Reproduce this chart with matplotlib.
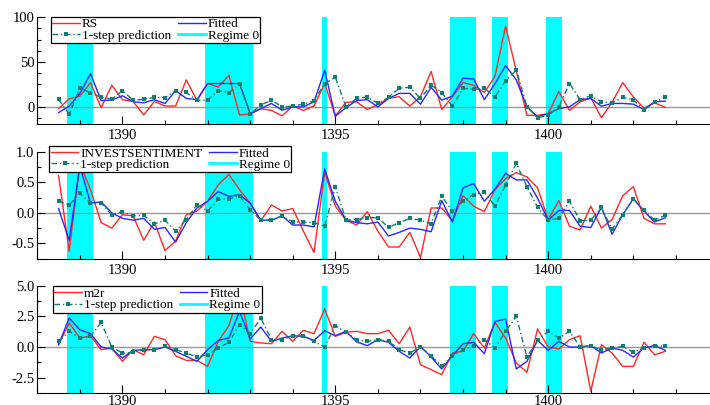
import numpy as np
import matplotlib
matplotlib.use("Agg")
import matplotlib.pyplot as plt
from matplotlib.ticker import MultipleLocator, FormatStrFormatter
from matplotlib.lines import Line2D

plt.rcParams.update({
    "font.family": ["Liberation Serif", "DejaVu Serif"],
    "font.size": 10.5,
    "axes.unicode_minus": False,
})

# quarterly observations 1388(3) .. 1402(4)
dates = 1388.5 + 0.25 * np.arange(58)

rs_actual = [-2, 9, 12, 27, -1, 24, 8, 6, -9, 6, 1, 1, 30, 7, 26, 22, 35, -9, -8, -2,
             -4, -10, 1, -4, 1, 26, -10, 5, 5.6, -3, 2.6, 9.4, 11.3, 0.8, 11.3, 39.5, -3, 11.3,
             27, 24, 16, 34, 90, 40, -9.4, -9.4, -7.5, 17, -4, 5.6, 10, -12, 5, 27,
             11, -1.5, 4.5, -0.5]
rs_fitted = [-6.4, 0.8, 15, 37, 7, 7.5, 12.4, 5.6, 4.5, 8, 3.8, 18, 9.4, 8, 26, 26, 26, 26, -7.5, -2,
             3.8, -3.8, 0, 0, 5.6, 40.6, -10.5, -0.8, 7, 8, 0, 9.4, 15, 15, 3, 21.8, 7.5, 12,
             32, 31, 8, 26, 46, 30, 0, -11, -7.5, -2, 0, 8, 9.4, 0.8, 3.8, 3.8,
             3, -3, 5.6, 6.4]
rs_pred = [8.3, -8.3, 20.7, 15.8, 10.5, 8.7, 18, 7.5, 8.3, 10.5, 10.2, 18, 16, 7.5, 7.5, 18, 15.8, 26, -7.5, 2,
           7.5, 0, 0.8, 3, 6.8, 26, 33, 0, 9.5, 11, 3.8, 10.5, 20.7, 21.8, 9.4, 24.4, 15.8, 0.8,
           20.7, 19.5, 20.7, 11.3, 29, 41, 0, -12, -9.4, 0, 26, 8, 12.4, 5.6, 4.5, 10.5,
           8, -3.8, 5.6, 10.5]

inv_actual = [0.61, -0.63, 0.81, 0.38, -0.16, -0.25, -0.03, -0.05, -0.45, -0.15, -0.62, -0.46, -0.03, 0.03,
              0.19, 0.46, 0.63, 0.38, 0.16, -0.13, 0.13, 0.03, 0.07, -0.3, -0.65, 0.67, 0.11, -0.12,
              -0.2, 0.02, -0.3, -0.56, -0.56, -0.32, -0.73, 0.08, 0.08, -0.13, 0.28, 0.11, 0.02, 0.38,
              0.56, 0.66, 0.59, 0.41, -0.11, 0.2, -0.22, -0.28, 0.11, -0.25, -0.11, 0.28, 0.43, -0.09,
              -0.18, -0.18]
inv_fitted = [0.07, -0.45, 0.77, 0.16, 0.18, 0, -0.09, -0.12, -0.09, -0.27, -0.24, -0.48, -0.16, 0.08,
              0.19, 0.35, 0.27, 0.3, 0.16, -0.12, -0.12, -0.05, -0.2, -0.2, -0.23, 0.72, 0.19, -0.12,
              -0.16, -0.18, -0.15, -0.38, -0.32, -0.25, -0.27, -0.31, 0.2, -0.15, 0.41, 0.48, 0.19, 0.39,
              0.65, 0.54, 0.54, 0.24, -0.12, 0.04, 0.04, -0.22, -0.24, 0.09, -0.35, -0.03, 0.23, 0.03,
              -0.15, -0.08]
inv_pred = [0.19, 0.13, 0.32, 0.16, 0.16, -0.03, 0.02, -0.05, -0.04, -0.18, -0.12, -0.3, -0.11, 0.13,
            0.03, 0.22, 0.23, 0.28, 0.05, -0.12, -0.12, -0.05, -0.15, -0.15, -0.16, -0.22, 0.43, -0.12,
            -0.11, -0.08, -0.08, -0.24, -0.16, -0.09, -0.12, -0.18, 0.27, 0.03, 0.19, 0.3, 0.34, 0.11,
            0.46, 0.81, 0.43, 0.09, -0.12, -0.09, 0.19, -0.13, -0.12, 0.09, -0.27, -0.03, 0.23, 0.04,
            -0.12, -0.04]

m2r_actual = [0.19, 1.96, 0.73, 0.92, -0.22, -0.08, -1.17, -0.22, -0.63, 0.87, 0.6, -0.71, -1.09, -1.09,
              -1.58, 0.46, 1.74, 4.46, 0.46, 0.33, 0.27, 1.28, 0.46, 1.36, 1.09, 3.1, 0.87, 1.2,
              1.28, 1.09, 1.09, 1.36, 0.27, 1.63, -1.44, -1.85, -2.26, -0.49, -0.35, 1.09, -0.08, 2.01,
              0.73, -1.3, -2.07, 1.47, 0, -0.16, 0.6, 0.92, -3.6, 0.19, -0.49, -1.58, -1.58, 0.38,
              -0.63, -0.35]
m2r_fitted = [0.19, 2.36, 1.41, 1.09, 0, -0.16, -0.9, -0.27, -0.22, -0.22, 0, -0.35, -0.76, -1.17,
              -0.22, 0.54, 0.73, 2.9, 0.65, 1.63, 0.46, 0.73, 0.92, 0.87, 0.54, 1.33, 0.92, 1.28,
              0.42, 0.11, 0.6, 0.38, -0.35, -0.9, 0.05, -0.82, -1.79, -0.71, 0.27, 0.38, -0.54, 2.09,
              2.28, -1.79, -1.17, 0.54, -0.27, 0.46, 0, 0, 0.11, -0.49, -0.08, -0.27, -0.82, -0.08,
              0.11, -0.27]
m2r_pred = [0.46, 1.28, 0.73, 0.87, 2.01, 0, -0.49, -0.43, -0.22, -0.22, 0.05, -0.22, -0.49, -0.82,
            -0.63, -0.08, 0.38, 1.82, 1.09, 2.36, 0.6, 0.6, 0.92, 0.87, 0.46, 0, 1.74, 1.2,
            0.6, 0.46, 0.6, 0.46, -0.22, -0.49, 0, -0.71, -1.58, -0.71, -0.22, 0.11, 0.6, -0.08,
            1.28, 2.5, -0.82, 0.54, 1.28, 0.73, 1.28, 0, 0.11, -0.27, -0.08, 0.05, -0.43, -0.08,
            0.11, 0.05]

# Regime 0 periods (first and last quarter of each run)
regime0 = [(1388.75, 1389.25), (1392.0, 1393.0), (1394.75, 1394.75),
           (1397.75, 1398.25), (1398.75, 1399.0), (1400.0, 1400.25)]

panels = [
    ("RS", rs_actual, rs_fitted, rs_pred, (-19, 100.5), 50, 12.5, "%d"),
    ("INVESTSENTIMENT", inv_actual, inv_fitted, inv_pred, (-0.76, 1.0), 0.5, 0.25, "%.1f"),
    ("m2r", m2r_actual, m2r_fitted, m2r_pred, (-3.75, 5.0), 2.5, 1.25, "%.1f"),
]

RED = "#ff2828"
BLUE = "#2828ff"
TEAL = "#0e7f72"
CYAN = "#00ffff"
PRED_DASH = (0, (4, 2, 1, 2))

fig = plt.figure(figsize=(7.1, 4.05), dpi=100)
boxes = [(0.0525, 0.694, 0.9475, 0.265),
         (0.0525, 0.360, 0.9475, 0.265),
         (0.0525, 0.0296, 0.9475, 0.265)]
legend_pos = [(0.0205, 0.998), (0.018, 1.055), (0.023, 0.995)]
xpads = [3.5, 3.5, 1.5]

for (name, act, fit, pred, ylim, major, minor, fmt), box, lpos, xpad in zip(panels, boxes, legend_pos, xpads):
    ax = fig.add_axes(box)
    for a, b in regime0:
        ax.axvspan(a - 0.0625, b + 0.0625, color=CYAN, lw=0, zorder=0)
    ax.axhline(0, color="#999999", lw=1.0, zorder=1)
    ax.plot(dates, act, color=RED, lw=1.0, zorder=3)
    ax.plot(dates, fit, color=BLUE, lw=1.0, zorder=3)
    ax.plot(dates, pred, color=TEAL, lw=1.0, ls=PRED_DASH, marker="s",
            markersize=2.6, markeredgewidth=0, zorder=4)
    ax.set_xlim(1388.0, 1403.8)
    ax.set_ylim(*ylim)
    ax.xaxis.set_major_locator(MultipleLocator(5))
    ax.xaxis.set_minor_locator(MultipleLocator(1))
    ax.yaxis.set_major_locator(MultipleLocator(major))
    ax.yaxis.set_minor_locator(MultipleLocator(minor))
    ax.yaxis.set_major_formatter(FormatStrFormatter(fmt))
    ax.spines["top"].set_visible(False)
    ax.spines["right"].set_visible(False)
    ax.tick_params(which="both", direction="in", labelsize=10.5, top=False, right=False)
    ax.tick_params(which="major", length=5.5, width=0.8)
    ax.tick_params(which="minor", length=2.8, width=0.8)
    ax.tick_params(axis="x", pad=xpad)
    ax.tick_params(axis="y", pad=2)
    ax.patch.set_alpha(0)

    handles = [
        Line2D([], [], color=RED, lw=1.0),
        Line2D([], [], color=TEAL, lw=1.0, ls=PRED_DASH, marker="s",
               markersize=2.6, markeredgewidth=0),
        Line2D([], [], color=BLUE, lw=1.0),
        Line2D([], [], color=CYAN, lw=2.0),
    ]
    labels = [name, "1-step prediction", "Fitted", "Regime 0"]
    leg = ax.legend(handles, labels, ncol=2, loc="upper left", bbox_to_anchor=lpos,
                    frameon=True, fancybox=False, edgecolor="black", framealpha=1,
                    fontsize=9.5, handlelength=2.1, handletextpad=0.15,
                    columnspacing=0.5, labelspacing=-0.05, borderpad=0.1,
                    borderaxespad=0.0)
    leg.get_frame().set_linewidth(0.9)
    leg.set_zorder(5)

fig.savefig("out.png", dpi=100)
